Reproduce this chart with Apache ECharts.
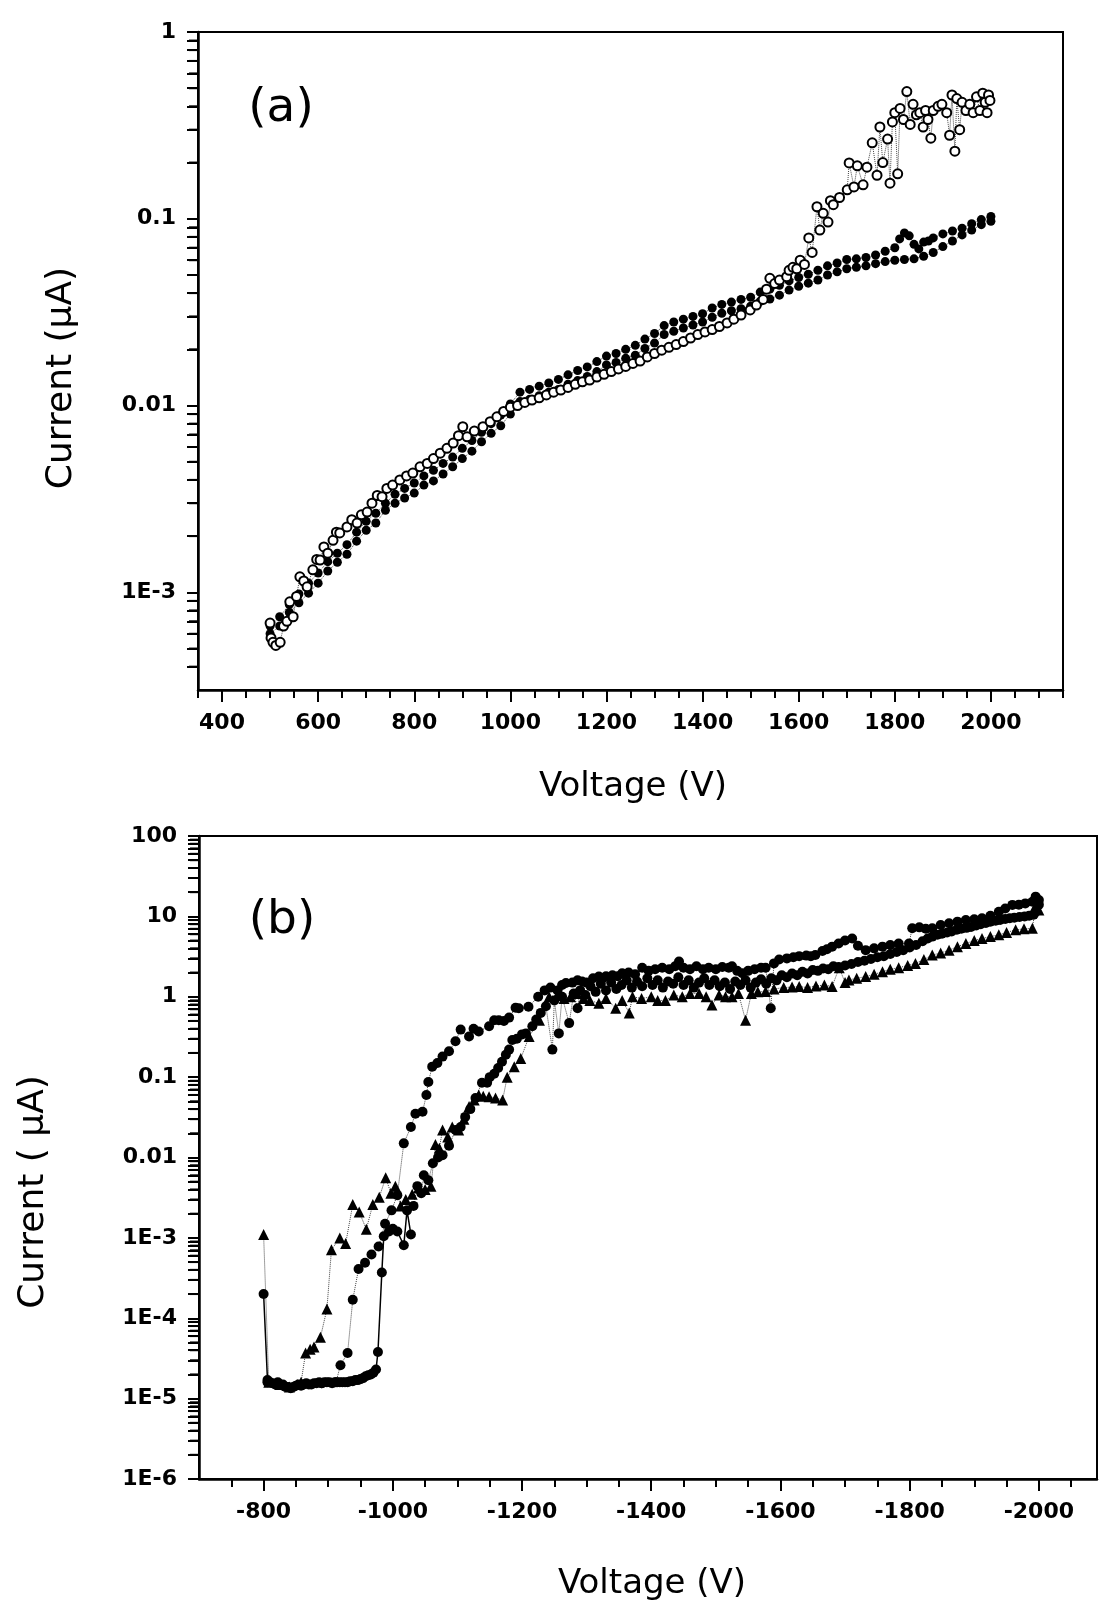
<!DOCTYPE html>
<html><head><meta charset="utf-8">
<script src="https://cdn.jsdelivr.net/npm/echarts@6/dist/echarts.min.js"></script>
<style>html,body{margin:0;padding:0;background:#fff;overflow:hidden}#c{width:1099px;height:1604px}</style>
</head><body><div id="c"></div>
<script>
// ---------- Panel (a): Voltage (V) vs Current (uA) ----------
const xTicksA = [400, 600, 800, 1000, 1200, 1400, 1600, 1800, 2000];
const yTickValsA = [1e-3, 0.01, 0.1, 1];
const yTickLabelsA = ['1E-3', '0.01', '0.1', '1'];

// filled circles, upper sweep
const aFillUp = [[500,6.6e-4],[520,7.4e-4],[540,8.6e-4],[560,9.8e-4],[580,1.12e-3],[600,1.27e-3],[620,1.46e-3],[640,1.62e-3],[660,1.8e-3],[680,2.1e-3],[700,2.4e-3],[720,2.65e-3],[740,3.0e-3],[760,3.35e-3],[780,3.6e-3],[800,3.85e-3],[820,4.2e-3],[840,4.5e-3],[860,4.9e-3],[880,5.3e-3],[900,5.9e-3],[920,6.5e-3],[940,7.2e-3],[960,8.0e-3],[980,8.9e-3],[1000,1.02e-2],[1020,1.18e-2],[1040,1.22e-2],[1060,1.27e-2],[1080,1.32e-2],[1100,1.38e-2],[1120,1.46e-2],[1140,1.54e-2],[1160,1.61e-2],[1180,1.72e-2],[1200,1.84e-2],[1220,1.9e-2],[1240,2.0e-2],[1260,2.1e-2],[1280,2.27e-2],[1300,2.43e-2],[1320,2.68e-2],[1340,2.8e-2],[1360,2.9e-2],[1380,3.0e-2],[1400,3.1e-2],[1420,3.33e-2],[1440,3.48e-2],[1460,3.58e-2],[1480,3.7e-2],[1500,3.8e-2],[1520,4.05e-2],[1540,4.2e-2],[1560,4.4e-2],[1580,4.65e-2],[1600,4.85e-2],[1620,5.05e-2],[1640,5.3e-2],[1660,5.6e-2],[1680,5.8e-2],[1700,6.05e-2],[1720,6.1e-2],[1740,6.2e-2],[1760,6.4e-2],[1780,6.7e-2],[1800,7.0e-2],[1810,7.8e-2],[1820,8.4e-2],[1830,8.1e-2],[1840,7.3e-2],[1850,6.9e-2],[1860,7.5e-2],[1870,7.6e-2],[1880,7.9e-2],[1900,8.3e-2],[1920,8.6e-2],[1940,8.9e-2],[1960,9.4e-2],[1980,9.9e-2],[2000,1.03e-1]];
// filled circles, lower sweep
const aFillDn = [[500,6.0e-4],[520,6.6e-4],[540,7.8e-4],[560,8.8e-4],[580,9.9e-4],[600,1.12e-3],[620,1.3e-3],[640,1.45e-3],[660,1.6e-3],[680,1.88e-3],[700,2.15e-3],[720,2.35e-3],[740,2.75e-3],[760,3.0e-3],[780,3.2e-3],[800,3.4e-3],[820,3.75e-3],[840,3.95e-3],[860,4.3e-3],[880,4.7e-3],[900,5.2e-3],[920,5.7e-3],[940,6.4e-3],[960,7.1e-3],[980,7.8e-3],[1000,9.0e-3],[1020,1.05e-2],[1040,1.08e-2],[1060,1.13e-2],[1080,1.18e-2],[1100,1.22e-2],[1120,1.3e-2],[1140,1.36e-2],[1160,1.43e-2],[1180,1.52e-2],[1200,1.65e-2],[1220,1.7e-2],[1240,1.79e-2],[1260,1.86e-2],[1280,2.02e-2],[1300,2.16e-2],[1320,2.4e-2],[1340,2.5e-2],[1360,2.6e-2],[1380,2.7e-2],[1400,2.8e-2],[1420,2.97e-2],[1440,3.12e-2],[1460,3.22e-2],[1480,3.3e-2],[1500,3.4e-2],[1520,3.62e-2],[1540,3.72e-2],[1560,3.9e-2],[1580,4.15e-2],[1600,4.35e-2],[1620,4.52e-2],[1640,4.7e-2],[1660,5.0e-2],[1680,5.2e-2],[1700,5.4e-2],[1720,5.5e-2],[1740,5.6e-2],[1760,5.75e-2],[1780,5.9e-2],[1800,6.0e-2],[1820,6.05e-2],[1840,6.1e-2],[1860,6.3e-2],[1880,6.6e-2],[1900,7.1e-2],[1920,7.6e-2],[1940,8.2e-2],[1960,8.7e-2],[1980,9.3e-2],[2000,9.7e-2]];
// open circles
const aOpen = [[500,6.85e-4],[502,5.7e-4],[506,5.4e-4],[512,5.2e-4],[521,5.4e-4],[528,6.6e-4],[535,7.0e-4],[541,8.9e-4],[548,7.4e-4],[555,9.5e-4],[562,1.21e-3],[570,1.15e-3],[577,1.07e-3],[589,1.32e-3],[597,1.5e-3],[604,1.49e-3],[612,1.75e-3],[620,1.62e-3],[631,1.9e-3],[638,2.1e-3],[645,2.08e-3],[660,2.24e-3],[670,2.45e-3],[681,2.35e-3],[690,2.6e-3],[702,2.69e-3],[712,3.0e-3],[723,3.3e-3],[733,3.25e-3],[743,3.6e-3],[755,3.75e-3],[770,4.0e-3],[784,4.2e-3],[797,4.35e-3],[812,4.7e-3],[827,4.9e-3],[840,5.2e-3],[854,5.56e-3],[868,5.9e-3],[881,6.3e-3],[892,6.9e-3],[901,7.7e-3],[910,6.8e-3],[925,7.3e-3],[943,7.7e-3],[958,8.2e-3],[972,8.7e-3],[986,9.3e-3],[1000,9.8e-3],[1015,1.0e-2],[1030,1.04e-2],[1045,1.07e-2],[1060,1.1e-2],[1075,1.14e-2],[1090,1.18e-2],[1105,1.21e-2],[1120,1.25e-2],[1135,1.3e-2],[1150,1.34e-2],[1165,1.37e-2],[1180,1.42e-2],[1195,1.47e-2],[1210,1.52e-2],[1225,1.57e-2],[1240,1.62e-2],[1255,1.68e-2],[1270,1.73e-2],[1285,1.82e-2],[1300,1.9e-2],[1315,1.98e-2],[1330,2.05e-2],[1345,2.12e-2],[1360,2.2e-2],[1375,2.3e-2],[1390,2.4e-2],[1405,2.48e-2],[1420,2.55e-2],[1435,2.65e-2],[1451,2.77e-2],[1465,2.9e-2],[1480,3.05e-2],[1499,3.25e-2],[1512,3.45e-2],[1526,3.7e-2],[1533,4.2e-2],[1540,4.8e-2],[1550,4.5e-2],[1560,4.7e-2],[1575,4.9e-2],[1580,5.3e-2],[1588,5.5e-2],[1596,5.4e-2],[1603,6.0e-2],[1612,5.7e-2],[1621,7.9e-2],[1628,6.6e-2],[1638,1.16e-1],[1644,8.7e-2],[1651,1.07e-1],[1661,9.6e-2],[1666,1.25e-1],[1672,1.19e-1],[1685,1.3e-1],[1701,1.43e-1],[1705,1.99e-1],[1715,1.48e-1],[1722,1.92e-1],[1734,1.52e-1],[1742,1.89e-1],[1753,2.55e-1],[1763,1.71e-1],[1769,3.1e-1],[1775,2.0e-1],[1785,2.67e-1],[1790,1.55e-1],[1795,3.3e-1],[1800,3.7e-1],[1806,1.74e-1],[1811,3.9e-1],[1818,3.4e-1],[1825,4.8e-1],[1832,3.2e-1],[1838,4.1e-1],[1845,3.6e-1],[1852,3.7e-1],[1859,3.1e-1],[1864,3.8e-1],[1869,3.4e-1],[1875,2.7e-1],[1880,3.8e-1],[1890,4.0e-1],[1898,4.1e-1],[1908,3.7e-1],[1914,2.8e-1],[1919,4.6e-1],[1925,2.3e-1],[1929,4.4e-1],[1935,3.0e-1],[1940,4.2e-1],[1948,3.8e-1],[1956,4.1e-1],[1963,3.7e-1],[1970,4.5e-1],[1977,3.8e-1],[1983,4.7e-1],[1988,4.2e-1],[1992,3.7e-1],[1995,4.6e-1],[1998,4.3e-1]];

// ---------- Panel (b) ----------
const xTicksB = [-800, -1000, -1200, -1400, -1600, -1800, -2000];
const yTickValsB = [1e-6, 1e-5, 1e-4, 1e-3, 0.01, 0.1, 1, 10, 100];
const yTickLabelsB = ['1E-6', '1E-5', '1E-4', '1E-3', '0.01', '0.1', '1', '10', '100'];

// circles joined by a solid line (floor part of the sweep)
const bFloor = [[-800,2.0e-4],[-806,1.7e-5],[-810,1.6e-5],[-814,1.55e-5],[-818,1.5e-5],[-822,1.6e-5],[-826,1.5e-5],[-830,1.45e-5],[-834,1.4e-5],[-838,1.4e-5],[-842,1.35e-5],[-846,1.4e-5],[-850,1.45e-5],[-854,1.5e-5],[-858,1.45e-5],[-862,1.5e-5],[-866,1.55e-5],[-870,1.5e-5],[-874,1.5e-5],[-878,1.55e-5],[-882,1.55e-5],[-886,1.6e-5],[-890,1.55e-5],[-894,1.6e-5],[-898,1.6e-5],[-902,1.6e-5],[-906,1.55e-5],[-910,1.6e-5],[-914,1.6e-5],[-918,1.6e-5],[-922,1.6e-5],[-926,1.6e-5],[-930,1.6e-5],[-934,1.65e-5],[-938,1.65e-5],[-942,1.7e-5],[-946,1.7e-5],[-950,1.75e-5],[-954,1.8e-5],[-958,1.9e-5],[-962,1.95e-5],[-966,2.0e-5],[-970,2.1e-5],[-974,2.3e-5],[-977,3.8e-5],[-983,3.7e-4],[-986,1.05e-3],[-994,1.2e-3],[-1000,1.3e-3],[-1007,1.2e-3],[-1017,8.1e-4],[-1022,2.2e-3],[-1028,1.1e-3]];
// same circles, after the rise (dotted joins)
const bMid = [[-1032,2.5e-3],[-1038,4.4e-3],[-1044,3.6e-3],[-1048,6.0e-3],[-1055,5.2e-3],[-1062,8.5e-3],[-1070,1.0e-2],[-1077,1.07e-2],[-1087,1.4e-2],[-1097,2.2e-2],[-1105,2.4e-2],[-1112,3.2e-2],[-1120,4.0e-2],[-1128,5.5e-2],[-1138,8.5e-2],[-1146,8.5e-2],[-1150,1.0e-1],[-1157,1.1e-1],[-1163,1.3e-1],[-1169,1.55e-1],[-1175,1.9e-1],[-1180,2.2e-1],[-1185,2.9e-1],[-1192,3.0e-1],[-1200,3.4e-1],[-1206,3.5e-1],[-1216,4.3e-1],[-1222,5.2e-1],[-1229,6.3e-1],[-1237,7.6e-1],[-1247,2.2e-1],[-1250,9.0e-1],[-1257,3.5e-1],[-1262,1.0],[-1273,4.7e-1],[-1280,1.1],[-1286,7.2e-1],[-1290,1.2],[-1298,1.05],[-1306,1.35],[-1314,1.15],[-1322,1.45],[-1330,1.2],[-1338,1.5],[-1346,1.25],[-1354,1.4],[-1362,1.6],[-1370,1.3],[-1378,1.55],[-1386,1.35],[-1394,1.7],[-1402,1.4],[-1410,1.6],[-1418,1.3],[-1426,1.55],[-1434,1.45],[-1442,1.75],[-1450,1.4],[-1458,1.6],[-1466,1.3],[-1474,1.5],[-1482,1.7],[-1490,1.4],[-1498,1.6],[-1506,1.35],[-1514,1.5],[-1522,1.25],[-1530,1.55],[-1538,1.4],[-1546,1.6],[-1554,1.3],[-1562,1.5],[-1570,1.65],[-1578,1.45],[-1586,1.7],[-1594,1.6],[-1602,1.85],[-1610,1.75],[-1618,1.95],[-1626,1.85],[-1634,2.05],[-1642,1.95],[-1650,2.15],[-1658,2.1],[-1666,2.25],[-1674,2.2],[-1682,2.4],[-1690,2.35],[-1700,2.45],[-1710,2.55],[-1720,2.7],[-1730,2.8],[-1740,2.95],[-1750,3.1],[-1760,3.2],[-1770,3.4],[-1780,3.6],[-1790,3.8],[-1800,4.1],[-1810,4.4],[-1820,4.9],[-1828,5.3],[-1835,5.6],[-1843,5.9],[-1850,6.1],[-1858,6.3],[-1865,6.5],[-1873,6.8],[-1880,7.0],[-1888,7.2],[-1895,7.4],[-1903,7.7],[-1910,8.0],[-1918,8.3],[-1925,8.6],[-1933,8.8],[-1940,9.0],[-1948,9.3],[-1955,9.5],[-1962,9.6],[-1970,9.8],[-1978,10.0],[-1985,10.2],[-1992,10.5],[-1996,11.5],[-2000,14.0]];
// circles, upper sweep
const bC = [[-806,1.6e-5],[-830,1.5e-5],[-860,1.5e-5],[-890,1.55e-5],[-912,1.6e-5],[-919,2.6e-5],[-930,3.7e-5],[-938,1.7e-4],[-947,4.1e-4],[-957,4.9e-4],[-967,6.2e-4],[-978,7.8e-4],[-988,1.5e-3],[-998,2.2e-3],[-1007,3.4e-3],[-1017,1.5e-2],[-1028,2.4e-2],[-1035,3.5e-2],[-1046,3.7e-2],[-1052,6.0e-2],[-1055,8.7e-2],[-1061,1.35e-1],[-1069,1.5e-1],[-1077,1.8e-1],[-1087,2.1e-1],[-1097,2.8e-1],[-1105,3.9e-1],[-1118,3.2e-1],[-1125,4.0e-1],[-1133,3.7e-1],[-1149,4.3e-1],[-1157,5.1e-1],[-1164,5.1e-1],[-1172,5.0e-1],[-1180,5.5e-1],[-1190,7.3e-1],[-1195,7.2e-1],[-1210,7.5e-1],[-1225,1.0],[-1235,1.2],[-1244,1.3],[-1255,1.2],[-1262,1.4],[-1268,1.48],[-1278,1.5],[-1286,1.6],[-1293,1.55],[-1300,1.5],[-1310,1.7],[-1319,1.78],[-1325,1.7],[-1330,1.8],[-1340,1.85],[-1348,1.8],[-1355,1.96],[-1365,2.0],[-1375,1.9],[-1386,2.3],[-1396,2.1],[-1406,2.2],[-1417,2.3],[-1428,2.2],[-1437,2.4],[-1443,2.75],[-1450,2.3],[-1460,2.2],[-1470,2.4],[-1480,2.2],[-1489,2.3],[-1500,2.2],[-1510,2.35],[-1520,2.3],[-1525,2.4],[-1533,2.1],[-1541,1.96],[-1550,2.1],[-1560,2.2],[-1570,2.3],[-1577,2.3],[-1585,0.72],[-1590,2.6],[-1598,2.9],[-1610,3.0],[-1620,3.1],[-1629,3.2],[-1640,3.25],[-1647,3.2],[-1654,3.3],[-1665,3.7],[-1672,3.9],[-1680,4.2],[-1690,4.6],[-1700,5.0],[-1711,5.3],[-1720,4.3],[-1732,3.8],[-1745,4.0],[-1758,4.2],[-1770,4.4],[-1783,4.6],[-1799,4.6],[-1804,7.1],[-1815,7.3],[-1825,7.0],[-1835,7.1],[-1848,7.8],[-1861,8.2],[-1874,8.6],[-1887,9.0],[-1900,9.2],[-1912,9.5],[-1925,10.2],[-1938,11.4],[-1948,12.5],[-1959,13.9],[-1969,14.0],[-1979,14.5],[-1990,15.2],[-1995,17.6],[-2000,16.0]];
// triangles
const bT = [[-800,1.1e-3],[-808,1.6e-5],[-825,1.5e-5],[-840,1.4e-5],[-852,1.5e-5],[-858,1.6e-5],[-865,3.7e-5],[-872,4.1e-5],[-878,4.4e-5],[-888,5.8e-5],[-898,1.3e-4],[-905,7.1e-4],[-918,1.0e-3],[-927,8.5e-4],[-938,2.6e-3],[-948,2.1e-3],[-959,1.28e-3],[-969,2.6e-3],[-979,3.2e-3],[-989,5.6e-3],[-997,3.6e-3],[-1004,4.4e-3],[-1012,2.5e-3],[-1020,3.0e-3],[-1030,3.5e-3],[-1040,4.2e-3],[-1050,4.0e-3],[-1059,4.4e-3],[-1066,1.45e-2],[-1072,1.3e-2],[-1077,2.2e-2],[-1085,1.8e-2],[-1092,2.4e-2],[-1102,2.2e-2],[-1110,3.0e-2],[-1118,4.3e-2],[-1126,5.2e-2],[-1133,6.0e-2],[-1140,5.8e-2],[-1149,5.7e-2],[-1159,5.5e-2],[-1170,5.2e-2],[-1177,1.0e-1],[-1188,1.35e-1],[-1198,1.7e-1],[-1211,3.2e-1],[-1227,5.1e-1],[-1242,1.0],[-1255,1.05],[-1265,0.95],[-1275,1.0],[-1285,1.1],[-1295,0.95],[-1305,0.9],[-1319,0.83],[-1330,0.95],[-1345,0.72],[-1355,0.9],[-1366,0.63],[-1371,1.0],[-1385,0.95],[-1400,1.0],[-1410,0.9],[-1422,0.9],[-1435,1.05],[-1448,1.0],[-1460,1.1],[-1474,1.1],[-1485,1.0],[-1494,0.79],[-1505,1.05],[-1515,1.0],[-1525,1.0],[-1535,1.1],[-1546,0.51],[-1555,1.1],[-1565,1.15],[-1577,1.16],[-1590,1.25],[-1605,1.3],[-1618,1.32],[-1629,1.34],[-1642,1.3],[-1655,1.36],[-1668,1.4],[-1680,1.34],[-1691,2.3],[-1700,1.5],[-1706,1.62],[-1718,1.7],[-1732,1.78],[-1745,1.9],[-1758,2.05],[-1770,2.2],[-1783,2.3],[-1797,2.45],[-1809,2.6],[-1822,2.9],[-1835,3.3],[-1848,3.5],[-1861,3.8],[-1874,4.2],[-1887,4.6],[-1900,5.0],[-1912,5.3],[-1925,5.6],[-1938,5.9],[-1950,6.3],[-1964,6.8],[-1977,7.0],[-1990,7.1],[-1995,13.6],[-2000,12.0]];

// minor tick positions
const xMinorA = []; for (let v = 350; v <= 2150; v += 50) xMinorA.push(v);
const xMinorB = []; for (let v = -750; v >= -2050; v -= 50) xMinorB.push(v);
function logMinor(lo, hi) {
  const out = [];
  for (let d = Math.floor(Math.log10(lo)); d <= Math.ceil(Math.log10(hi)); d++) {
    for (let k = 2; k <= 9; k++) {
      const v = k * Math.pow(10, d);
      if (v > lo * 1.0001 && v < hi * 0.9999) out.push(v);
    }
  }
  return out;
}
const yMinorA = logMinor(3e-4, 1);
const yMinorB = logMinor(1e-6, 100);

function logLabel(vals, labels) {
  return function (v) {
    for (let i = 0; i < vals.length; i++) {
      if (Math.abs(v - vals[i]) / vals[i] < 1e-6) return labels[i];
    }
    return '';
  };
}

const tickFont = { fontFamily: 'DejaVu Sans', fontWeight: 'bold', fontSize: 22, color: '#000' };
const axLine = () => ({ show: true, onZero: false, lineStyle: { color: '#000', width: 2.5 } });
const majTick = (cv) => ({ show: true, inside: false, length: 12, customValues: cv, lineStyle: { color: '#000', width: 2 } });
const minTick = (cv) => ({ show: true, inside: false, length: 8, customValues: cv, lineStyle: { color: '#000', width: 2 } });
const hidden = () => ({ axisLine: { show: false, onZero: false }, axisLabel: { show: false }, splitLine: { show: false } });
const titleFont = '34px "DejaVu Sans"';
const ytitleFont = '36px "DejaVu Sans"';
const txt = (t, x, y, font, rot) => ({ type: 'text', x: x, y: y, rotation: rot || 0,
  style: { text: t, font: font, fill: '#000', align: 'center', verticalAlign: 'middle', textAlign: 'center', textVerticalAlign: 'middle' } });

// minor ticks of the log axes, placed through the axis scale
function minorYTicks(xIdx, yIdx, xAtAxis, vals) {
  return {
    type: 'custom', xAxisIndex: xIdx, yAxisIndex: yIdx, silent: true, clip: false, z: 5,
    data: vals.map(v => [xAtAxis, v]),
    renderItem: function (params, api) {
      const p = api.coord([api.value(0), api.value(1)]);
      return { type: 'line', shape: { x1: p[0] - 9, y1: p[1], x2: p[0] - 1, y2: p[1] },
               style: { stroke: '#000', lineWidth: 2 } };
    }
  };
}

const chart = echarts.init(document.getElementById('c'), null, { renderer: 'canvas' });
chart.setOption({
  animation: false,
  backgroundColor: '#fff',
  grid: [
    { left: 198, top: 32, width: 865, height: 658, show: true, borderColor: '#000', borderWidth: 2, backgroundColor: 'transparent' },
    { left: 199, top: 836, width: 898, height: 643, show: true, borderColor: '#000', borderWidth: 2, backgroundColor: 'transparent' },
    { left: 198, top: 32, width: 865, height: 658, show: false },
    { left: 199, top: 836, width: 898, height: 643, show: false }
  ],
  xAxis: [
    { type: 'value', gridIndex: 0, min: 350, max: 2150, position: 'bottom',
      axisLine: axLine(), axisTick: majTick(xTicksA),
      axisLabel: Object.assign({ customValues: xTicksA, margin: 22, formatter: v => String(v) }, tickFont),
      splitLine: { show: false } },
    { type: 'value', gridIndex: 1, min: -2090, max: -700, inverse: true, position: 'bottom',
      axisLine: axLine(), axisTick: majTick(xTicksB),
      axisLabel: Object.assign({ customValues: xTicksB, margin: 22, formatter: v => String(v) }, tickFont),
      splitLine: { show: false } },
    Object.assign({ type: 'value', gridIndex: 2, min: 350, max: 2150, position: 'bottom', axisTick: minTick(xMinorA) }, hidden()),
    Object.assign({ type: 'value', gridIndex: 3, min: -2090, max: -700, inverse: true, position: 'bottom', axisTick: minTick(xMinorB) }, hidden())
  ],
  yAxis: [
    { type: 'log', logBase: 10, gridIndex: 0, min: 3e-4, max: 1, splitNumber: 4,
      axisLine: axLine(),
      // ticks at the decades and at 2..9 within each decade
      axisTick: { show: true, length: 11, customValues: yTickValsA.concat(yMinorA), lineStyle: { color: '#000', width: 2 } },
      axisLabel: Object.assign({ margin: 22, formatter: logLabel(yTickValsA, yTickLabelsA) }, tickFont),
      splitLine: { show: false } },
    { type: 'log', logBase: 10, gridIndex: 1, min: 1e-6, max: 100, splitNumber: 8,
      axisLine: axLine(),
      axisTick: { show: true, length: 11, customValues: yTickValsB.concat(yMinorB), lineStyle: { color: '#000', width: 2 } },
      axisLabel: Object.assign({ margin: 22, formatter: logLabel(yTickValsB, yTickLabelsB) }, tickFont),
      splitLine: { show: false } },
    Object.assign({ type: 'log', logBase: 10, gridIndex: 2, min: 3e-4, max: 1, position: 'left', axisTick: minTick(yMinorA) }, hidden()),
    Object.assign({ type: 'log', logBase: 10, gridIndex: 3, min: 1e-6, max: 100, position: 'left', axisTick: minTick(yMinorB) }, hidden())
  ],
  graphic: [
    txt('(a)', 281, 109, '47px "DejaVu Sans"'),
    txt('(b)', 282, 921, '47px "DejaVu Sans"'),
    txt('Voltage (V)', 633, 787, titleFont),
    txt('Voltage (V)', 652, 1584, titleFont),
    txt('Current (\u03bcA)', 62, 378, ytitleFont, Math.PI / 2),
    txt('Current ( \u03bcA)', 34, 1192, ytitleFont, Math.PI / 2)
  ],
  series: [
    minorYTicks(0, 0, 350, yMinorA),
    minorYTicks(1, 1, -700, yMinorB),
    { name: 'filled sweep 2', type: 'line', xAxisIndex: 0, yAxisIndex: 0, data: aFillDn,
      symbol: 'circle', symbolSize: 9, showSymbol: true,
      itemStyle: { color: '#000' }, lineStyle: { color: '#444', width: 1, type: 'dotted' } },
    { name: 'filled sweep 1', type: 'line', xAxisIndex: 0, yAxisIndex: 0, data: aFillUp,
      symbol: 'circle', symbolSize: 9, showSymbol: true,
      itemStyle: { color: '#000' }, lineStyle: { color: '#444', width: 1, type: 'dotted' } },
    { name: 'open', type: 'line', xAxisIndex: 0, yAxisIndex: 0, data: aOpen,
      symbol: 'circle', symbolSize: 9, showSymbol: true,
      itemStyle: { color: '#fff', borderColor: '#000', borderWidth: 2 },
      lineStyle: { color: '#444', width: 1, type: 'dotted' } },
    { name: 'b floor', type: 'line', xAxisIndex: 1, yAxisIndex: 1, data: bFloor,
      symbol: 'circle', symbolSize: 10, showSymbol: true,
      itemStyle: { color: '#000' }, lineStyle: { color: '#000', width: 1.5, type: 'solid' } },
    { name: 'b mid', type: 'line', xAxisIndex: 1, yAxisIndex: 1, data: bMid,
      symbol: 'circle', symbolSize: 10, showSymbol: true,
      itemStyle: { color: '#000' }, lineStyle: { color: '#444', width: 1, type: 'dotted' } },
    { name: 'b triangles', type: 'line', xAxisIndex: 1, yAxisIndex: 1, data: bT,
      symbol: 'triangle', symbolSize: 11, showSymbol: true,
      itemStyle: { color: '#000' }, lineStyle: { color: '#444', width: 1, type: 'dotted' } },
    { name: 'b circles', type: 'line', xAxisIndex: 1, yAxisIndex: 1, data: bC,
      symbol: 'circle', symbolSize: 10, showSymbol: true,
      itemStyle: { color: '#000' }, lineStyle: { color: '#444', width: 1, type: 'dotted' } }
  ]
});
</script></body></html>
